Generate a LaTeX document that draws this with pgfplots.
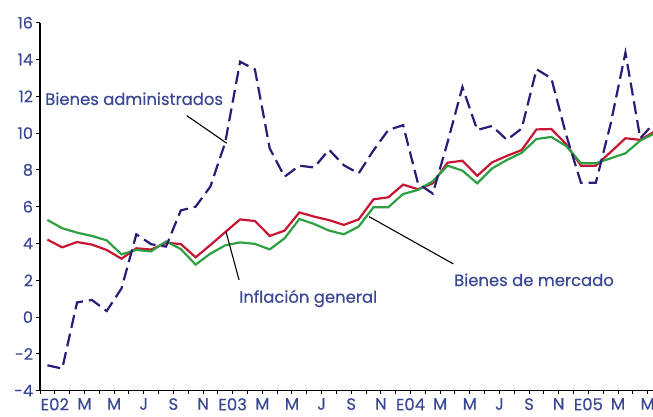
\documentclass[border=0pt]{standalone}
\usepackage{fontspec}
\setmainfont{Poppins}[FakeBold=0.35]
\usepackage{pgfplots}
\pgfplotsset{compat=1.18}
\definecolor{txt}{RGB}{58,72,148}
\definecolor{adm}{RGB}{45,25,120}
\definecolor{gen}{RGB}{200,20,50}
\definecolor{mer}{RGB}{45,160,65}
\begin{document}
\begin{tikzpicture}
\begin{axis}[at={(0,0)}, anchor=south west, scale only axis,
  width=613bp, height=368bp,
  xmin=-0.5, xmax=40.86, ymin=-4, ymax=16,
  axis x line=bottom, axis y line=left,
  axis line style={line width=1.3pt, -},
  tick style={black, line width=1pt},
  tick align=outside, major tick length=3.5bp, minor tick length=3.5bp,
  ytick={-4,-2,...,16},
  /pgf/number format/assume math mode=true,
  yticklabel style={font=\fontsize{16}{16}\selectfont, text=txt},
  xtick={0.5,2.5,...,40.5},
  minor xtick={-0.5,1.5,...,39.5},
  xticklabels={E02,M,M,J,S,N,E03,M,M,J,S,N,E04,M,M,J,S,N,E05,M,M},
  xticklabel style={font=\fontsize{16.5}{16.5}\selectfont, text=txt, yshift=-0.5bp},
]
\addplot[gen, line width=2.2pt] coordinates {
(0,4.21)(1,3.79)(2,4.08)(3,3.94)(4,3.65)(5,3.17)(6,3.74)(7,3.67)(8,4.04)(9,3.97)
(10,3.25)(11,3.92)(12,4.62)(13,5.31)(14,5.22)(15,4.41)(16,4.70)(17,5.69)(18,5.46)(19,5.27)
(20,5.01)(21,5.31)(22,6.40)(23,6.51)(24,7.20)(25,6.95)(26,7.27)(27,8.39)(28,8.50)(29,7.68)
(30,8.41)(31,8.76)(32,9.08)(33,10.20)(34,10.22)(35,9.40)(36,8.23)(37,8.23)(38,8.97)(39,9.72)
(40,9.63)(41,10.10)};
\addplot[mer, line width=2.2pt] coordinates {
(0,5.28)(1,4.83)(2,4.59)(3,4.41)(4,4.17)(5,3.41)(6,3.65)(7,3.57)(8,4.11)(9,3.70)
(10,2.85)(11,3.45)(12,3.90)(13,4.06)(14,3.98)(15,3.68)(16,4.28)(17,5.33)(18,5.06)(19,4.70)
(20,4.50)(21,4.92)(22,5.97)(23,5.97)(24,6.69)(25,6.91)(26,7.38)(27,8.23)(28,7.96)(29,7.27)
(30,8.08)(31,8.54)(32,8.93)(33,9.68)(34,9.79)(35,9.30)(36,8.36)(37,8.36)(38,8.63)(39,8.90)
(40,9.59)(41,10.00)};
\addplot[adm, line width=2.2pt, dash pattern=on 13bp off 6bp] coordinates {
(0,-2.62)(1,-2.80)(2,0.80)(3,0.93)(4,0.33)(5,1.56)(6,4.50)(7,3.96)(8,3.83)(9,5.80)
(10,6.00)(11,7.10)(12,9.50)(13,13.88)(14,13.46)(15,9.17)(16,7.63)(17,8.23)(18,8.13)(19,9.10)
(20,8.25)(21,7.81)(22,9.06)(23,10.17)(24,10.43)(25,7.27)(26,6.71)(27,9.50)(28,12.50)(29,10.17)
(30,10.39)(31,9.63)(32,10.25)(33,13.47)(34,12.98)(35,9.90)(36,7.30)(37,7.30)(38,10.50)(39,14.37)
(40,9.72)(41,10.60)};
\draw[black, line width=1.1pt] (axis cs:9.40,10.95) -- (axis cs:12.10,9.45);
\draw[black, line width=1.1pt] (axis cs:12.05,4.64) -- (axis cs:12.93,2.02);
\draw[black, line width=1.1pt] (axis cs:21.7,5.46) -- (axis cs:27.39,2.89);
\node[anchor=base west, inner sep=0pt, text=txt, font=\fontsize{16.5}{16.5}\selectfont] at (axis cs:-0.16,11.53) {Bienes administrados};
\node[anchor=base west, inner sep=0pt, text=txt, font=\fontsize{16.5}{16.5}\selectfont] at (axis cs:12.93,0.78) {Inflación general};
\node[anchor=base west, inner sep=0pt, text=txt, font=\fontsize{16.5}{16.5}\selectfont] at (axis cs:27.43,1.69) {Bienes de mercado};
\end{axis}
\pgfresetboundingbox
\path[use as bounding box] (-40bp,-26.3bp) rectangle (613bp,390.7bp);
\end{tikzpicture}
\end{document}
